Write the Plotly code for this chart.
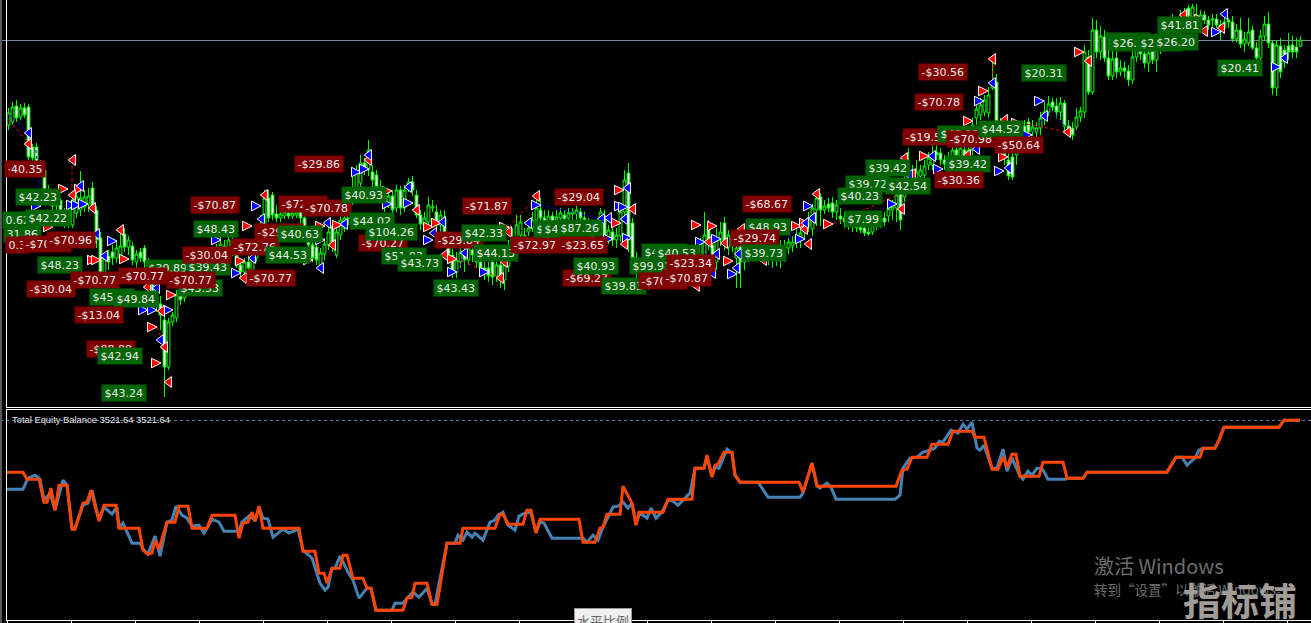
import plotly.graph_objects as go

opens = [875,878,894,883,892,893,853,853,837,830,
810,802,794,800,788,776,775,787,790,793,
796,812,790,762,728,744,748,742,742,766,
753,754,738,748,752,738,720,704,696,680,
633,678,682,707,702,710,718,722,717,726,
732,738,742,748,754,750,760,753,735,728,
738,730,742,752,774,802,805,786,782,784,
787,784,785,788,782,765,755,753,735,746,
755,774,745,765,772,782,800,812,817,837,
830,828,825,813,805,797,804,792,810,792,
812,818,805,785,775,778,792,788,775,782,
762,745,728,738,745,740,750,742,738,732,
732,738,724,735,720,734,750,760,765,755,
768,772,780,790,782,778,784,780,782,785,
782,786,786,788,782,775,768,762,772,784,
762,768,760,764,788,827,777,742,732,720,
725,718,722,728,724,730,728,734,728,736,
732,742,735,738,742,774,755,738,760,777,
753,762,742,754,738,745,748,750,746,752,
748,746,750,748,754,752,754,758,760,768,
774,771,790,803,790,796,797,788,784,782,
780,778,776,774,772,768,768,774,778,782,
784,790,792,815,803,820,828,822,824,825,
835,835,848,847,840,838,842,850,844,850,
832,850,882,885,888,887,912,918,878,865,
840,843,845,855,874,878,869,868,872,882,
888,898,894,888,897,874,872,873,883,888,
943,908,970,948,963,942,924,942,928,932,
929,920,943,952,946,937,950,940,950,962,
970,973,976,972,975,992,983,985,982,985,
980,980,981,975,972,980,978,961,970,956,
957,970,952,942,964,976,957,912,954,950,
954,955,953,954]
closes = [887,893,882,892,885,843,842,837,828,810,
802,794,800,788,778,790,800,803,802,803,
804,791,760,725,742,738,742,752,754,753,
760,740,746,742,738,720,704,696,685,633,
678,685,705,700,710,718,722,717,726,732,
738,742,750,756,750,760,752,735,728,738,
732,742,752,775,802,782,785,782,786,788,
784,787,788,782,765,755,742,740,747,756,
768,754,768,780,782,800,812,828,837,830,
850,820,813,805,795,804,790,810,792,810,
818,810,785,776,782,795,793,775,785,765,
745,728,740,748,740,752,745,738,732,726,
724,723,735,720,735,750,762,775,778,765,
772,780,792,782,775,784,778,783,787,781,
787,788,790,782,775,768,762,772,788,762,
770,760,765,788,820,760,742,732,718,725,
718,724,730,724,730,728,735,728,738,732,
742,735,742,758,765,755,738,760,768,757,
765,754,752,738,745,750,752,746,752,748,
746,750,748,754,750,758,758,764,767,776,
782,792,802,790,794,792,788,795,781,778,
776,774,772,770,767,766,774,778,782,778,
791,793,805,780,820,828,830,828,830,834,
842,842,845,840,836,842,850,845,852,842,
850,875,891,895,900,905,916,878,865,845,
824,823,855,870,868,868,873,872,882,888,
896,893,888,897,874,868,865,883,889,948,
908,970,948,964,942,924,941,928,932,929,
920,943,952,946,937,947,940,950,960,970,
975,978,972,975,985,983,993,982,985,980,
975,981,975,972,978,978,961,970,956,961,
968,952,942,964,976,957,912,955,928,938,
948,948,948,960]
highs = [892,898,900,896,897,896,856,857,840,832,
815,808,804,802,792,795,805,810,829,810,
812,818,794,768,746,750,755,760,768,772,
764,758,750,752,755,742,725,710,704,690,
682,688,710,715,715,724,728,728,732,738,
744,748,756,764,760,766,764,760,740,742,
744,748,760,785,810,810,808,795,792,795,
792,794,794,794,786,770,760,760,752,762,
775,780,775,785,788,808,828,835,845,842,
860,835,830,820,810,810,810,815,814,815,
822,824,810,790,788,803,800,795,790,790,
768,752,748,755,752,760,755,750,745,738,
738,742,740,745,742,760,772,785,785,772,
778,788,804,802,790,790,788,790,792,790,
792,792,794,792,788,782,775,778,792,790,
775,775,772,795,830,837,782,748,740,732,
730,730,735,735,736,736,742,740,745,744,
748,750,750,762,788,780,762,772,778,783,
770,768,760,760,750,755,756,756,758,758,
755,756,756,760,760,762,764,772,772,780,
788,796,810,807,800,802,803,800,792,788,
788,784,782,780,778,776,778,784,788,788,
796,800,810,820,840,852,835,840,835,840,
848,855,855,852,845,848,855,855,858,855,
855,882,900,902,905,913,940,926,882,872,
850,850,860,875,880,882,880,878,888,900,
904,902,902,903,900,880,878,892,893,955,
950,982,980,974,970,955,950,950,940,938,
935,950,960,958,954,955,958,960,970,978,
982,986,982,990,992,995,996,996,990,989,
984,986,986,980,985,982,984,976,982,968,
982,974,958,970,984,988,960,960,962,955,
967,964,962,964]
lows = [870,875,878,880,882,840,838,832,824,805,
798,788,785,782,772,772,772,782,784,788,
788,788,752,718,720,730,735,737,738,748,
745,735,732,738,728,710,695,688,670,603,
630,674,678,695,698,704,712,710,712,720,
728,734,738,744,744,746,744,732,722,724,
728,726,738,748,770,778,780,778,778,781,
781,781,782,776,760,750,738,735,728,740,
750,748,742,760,768,775,795,800,812,825,
824,810,805,800,788,792,785,788,785,788,
808,804,782,770,772,772,788,768,768,760,
738,722,722,732,728,735,738,732,725,720,
718,715,718,712,710,728,744,755,760,750,
764,768,774,776,770,772,774,775,776,774,
778,780,778,776,768,760,756,756,766,758,
756,754,752,758,780,748,735,720,710,712,
710,712,715,718,716,720,720,716,722,726,
724,728,715,732,738,750,730,730,754,750,
745,748,712,712,730,738,742,740,738,738,
735,732,734,732,738,746,748,752,752,760,
768,764,774,774,786,788,782,780,776,772,
770,768,768,767,764,764,765,770,772,774,
778,780,778,770,798,815,820,818,820,818,
830,830,840,835,830,832,835,838,835,830,
828,845,875,880,884,882,910,872,860,835,
820,820,835,850,860,862,864,862,865,875,
884,888,882,880,868,864,860,870,878,882,
905,905,942,940,938,920,920,922,924,922,
914,916,938,940,932,928,936,928,946,958,
964,966,964,962,968,978,978,976,972,976,
970,970,972,960,968,972,958,958,952,948,
954,950,938,940,960,952,905,904,922,932,
940,942,942,953]
bar_time = [8.5 + 4 * i for i in range(len(opens))]

current_price = 959.5
total_equity = 3521.64

red_right = [(53,773),(68,811),(84,811),(97,740),(101,740),(129,741),(157,673),(161,637),(176,705),(245,739),(252,774),(313,740),(325,774),(342,775),(392,809),(433,773),(441,777),(457,741),(509,773),(621,777),(624,810),(701,775),(717,774),(733,739),(801,774),(809,777),(833,776),(929,844),(973,879),(988,909),(1008,843),(1021,877),(1084,948),(1204,981)]
blue_right = [(41,794),(76,795),(81,795),(88,796),(97,758),(117,759),(148,690),(157,690),(173,690),(221,760),(241,727),(261,794),(325,760),(361,828),(369,831),(392,796),(413,797),(433,760),(457,728),(489,728),(541,795),(613,761),(632,762),(624,794),(628,793),(705,758),(721,761),(737,726),(805,761),(813,794),(897,796),(943,831),(984,899),(1004,829),(1032,865),(1044,899),(1221,968),(1281,933)]
red_left = [(29,856),(73,840),(73,805),(93,792),(121,770),(148,713),(162,689),(165,653),(169,618),(244,722),(265,805),(333,755),(369,840),(417,790),(445,745),(501,722),(505,738),(509,768),(537,804),(625,756),(633,791),(709,758),(725,757),(742,771),(764,740),(697,714),(805,771),(809,756),(817,806),(902,791),(905,842),(913,826),(968,845),(993,941),(1005,880),(1068,868),(1089,939),(1205,969),(1222,972),(1184,985)]
blue_left = [(29,867),(81,814),(97,766),(105,744),(157,712),(161,660),(253,742),(262,781),(321,732),(328,777),(345,776),(369,845),(409,813),(434,767),(443,778),(465,747),(529,777),(602,781),(609,782),(625,781),(628,812),(717,746),(739,746),(737,732),(713,727),(806,777),(813,782),(910,825),(933,844),(977,851),(993,917),(1009,832),(1045,884),(1225,986),(1285,942)]

red_trades = [((9,880),(29,856)),((157,673),(165,653)),((457,741),(501,722)),((509,773),(537,804)),((833,776),(902,807)),((993,941),(993,917)),((1021,877),(1068,868)),((72,840),(72,805))]
blue_trades = [((9,885),(29,867)),((36,850),(41,794)),((1044,899),(1068,870)),((541,795),(602,781)),((457,728),(465,747)),((788,762),(801,774)),((1032,868),(1045,884))]

labels = [
("\u00b740.35",25,831),("$42.23",37.5,803),("0.62",18,780),("$42.22",47.5,782),("31.86",22,766),("0.3",17,755),
("-$70.77",47,756),("-$70.96",71,760),("$48.23",59.5,735),("-$30.04",51,711),
("$39.89",167.5,732),("$43.53",199.5,712),("$39.43",207.5,733),("-$30.04",207,745),("-$70.77",95,720),("-$70.77",143,724),("-$70.77",191,720),
("$45.11",111.5,703),("$49.84",135.5,701),("-$13.04",99,685),("-$88.88",111,651),("$42.94",119.5,644),("$43.24",123.5,607),
("-$70.87",215,795),("$48.43",215.5,771),("-$29.86",319,836),("-$72.76",303,796),("-$70.78",327,792),
("-$29.74",279,768),("-$72.76",255,753),("$40.63",299.5,766),("$44.53",287.5,745),("-$70.77",271,722),
("$40.93",363.5,805),("$44.02",371.5,779),("-$70.27",383,757),("$104.26",391.5,768),("$51.93",403.5,744),("$43.73",419.5,737),
("-$29.84",459,760),("$42.33",483.5,767),("-$71.87",487,794),("$44.13",495.5,747),("$43.43",455.5,712),
("-$72.97",535,755),("$41.27",555.5,771),("$43.91",563.5,771),("$87.26",579.5,772),("-$23.65",583,755),("-$29.04",579,803),
("-$69.27",587,722),("$40.93",595.5,734),("$39.83",623.5,714),("$99.91",651.5,734),("$41.06",663.5,748),("$40.53",676.5,747),("-$70.87",663,719),("-$23.34",691,737),("-$70.87",687,722),
("-$68.67",767,796),("$48.93",767.5,773),("-$29.74",755,762),("$39.73",763.5,747),
("-$30.56",943,928),("-$70.78",939,898),("-$19.53",927,863),("$40.12",959.5,866),("-$70.98",971,861),
("$39.42",887.5,832),("$39.72",867.5,816),("$42.54",907.5,814),("$40.23",859.5,804),("$7.99",863,781),
("$39.42",967.5,836),("-$30.36",959,820),("$44.52",1000.5,871),("-$50.64",1019,855),("$20.31",1043.5,927),
("$26.15",1127.5,959),("$26.30",1131.5,957),("$26.18",1159.5,957),("$26.20",1176,958),("$41.81",1179.5,975),("$20.41",1239.5,932),
]

equity_time = [7,23,28,35,40,44,50,55,63,67,72,75,83,88,92,99,104,112,117,119,123,127,132,140,144,148,155,160,167,172,176,182,187,192,199,204,212,219,224,239,242,250,255,259,263,268,273,278,283,289,298,303,312,320,325,328,332,335,340,348,353,359,367,371,376,392,395,403,407,413,419,427,432,435,440,447,455,458,463,467,472,475,483,490,495,498,503,508,515,519,527,531,536,540,544,552,583,587,593,598,603,613,618,623,628,632,636,640,647,651,656,662,668,673,678,685,690,695,704,707,712,715,719,727,732,735,740,758,768,800,803,812,817,820,827,831,836,895,900,903,910,917,923,930,935,939,943,951,958,963,967,972,977,980,984,992,997,1003,1007,1012,1020,1023,1028,1032,1037,1042,1048,1065,1068,1083,1087,1167,1176,1182,1187,1195,1199,1203,1215,1219,1224,1279,1284,1300]
equity_value = [3453,3453,3464,3467,3463,3442,3449,3432,3462,3457,3414,3414,3437,3439,3452,3422,3435,3428,3435,3415,3419,3410,3399,3399,3392,3388,3406,3386,3420,3422,3436,3427,3424,3416,3417,3409,3423,3420,3411,3411,3420,3427,3421,3435,3424,3423,3405,3409,3413,3409,3413,3392,3384,3359,3352,3355,3374,3374,3386,3370,3362,3344,3354,3354,3332,3332,3339,3339,3344,3350,3345,3354,3338,3338,3364,3399,3399,3407,3402,3410,3405,3409,3402,3420,3422,3427,3430,3417,3412,3426,3430,3429,3410,3420,3419,3404,3404,3400,3407,3402,3415,3435,3436,3440,3434,3439,3419,3429,3424,3434,3424,3430,3442,3441,3437,3444,3449,3474,3474,3485,3466,3475,3474,3493,3489,3467,3460,3460,3445,3445,3449,3479,3457,3454,3459,3455,3443,3443,3447,3474,3484,3485,3490,3492,3494,3501,3500,3512,3509,3518,3513,3520,3494,3492,3497,3474,3474,3493,3471,3484,3466,3463,3471,3467,3474,3474,3463,3463,3464,3464,3470,3470,3485,3485,3477,3484,3492,3494,3494,3502,3515,3515,3522,3522]
balance_time = [7,23,27,39,44,47,51,55,59,67,72,75,83,87,91,97,99,104,116,119,139,143,148,152,155,159,167,175,179,188,192,207,212,235,239,243,248,252,255,259,263,299,303,315,319,324,327,332,340,343,347,353,363,367,371,376,403,407,412,415,427,432,437,447,460,463,495,500,503,508,523,527,531,536,540,579,583,595,600,603,607,620,623,632,636,639,663,668,692,695,704,707,712,715,718,724,732,735,740,799,803,812,817,896,902,907,912,927,932,948,953,972,975,984,992,998,1003,1007,1012,1016,1020,1039,1043,1063,1067,1083,1087,1167,1176,1200,1203,1215,1219,1224,1279,1284,1300]
balance_value = [3470,3470,3463,3463,3440,3440,3454,3432,3457,3457,3413,3413,3439,3440,3452,3427,3421,3437,3437,3414,3414,3392,3388,3389,3402,3393,3420,3420,3436,3436,3414,3414,3427,3427,3404,3419,3420,3430,3421,3436,3414,3414,3391,3391,3369,3369,3359,3374,3374,3387,3387,3364,3364,3354,3354,3332,3332,3344,3345,3359,3359,3338,3338,3399,3399,3414,3414,3428,3428,3418,3418,3432,3432,3409,3423,3423,3400,3400,3414,3415,3428,3428,3456,3439,3417,3430,3430,3443,3443,3474,3474,3487,3465,3477,3478,3490,3490,3467,3460,3460,3450,3479,3456,3456,3472,3473,3485,3485,3498,3498,3511,3511,3505,3505,3473,3473,3485,3475,3488,3488,3466,3466,3480,3480,3464,3464,3470,3470,3485,3485,3494,3494,3502,3515,3515,3522,3522]

x_ticks = list(range(7, 1311, 64))


def pairs(seq):
    return [p[0] for p in seq], [p[1] for p in seq]


def segs(seq):
    xs, ys = [], []
    for a, b in seq:
        xs += [a[0], b[0], None]
        ys += [a[1], b[1], None]
    return xs, ys


fig = go.Figure()
fig.add_trace(go.Candlestick(
    x=bar_time, open=opens, high=highs, low=lows, close=closes,
    increasing=dict(line=dict(color="#00FF00", width=1), fillcolor="#000000"),
    decreasing=dict(line=dict(color="#00FF00", width=1), fillcolor="#FFFFFF"),
    whiskerwidth=0, xaxis="x", yaxis="y", showlegend=False, hoverinfo="skip"))

for seq, col in ((red_trades, "#FF0000"), (blue_trades, "#0000FF")):
    xs, ys = segs(seq)
    fig.add_trace(go.Scatter(x=xs, y=ys, mode="lines", line=dict(color=col, width=1, dash="3px,3px"),
                             xaxis="x", yaxis="y", showlegend=False, hoverinfo="skip"))

for seq, col, sym in ((red_right, "#FF0000", "arrow-right"), (blue_right, "#0000FF", "arrow-right"),
                      (red_left, "#FF0000", "triangle-left"), (blue_left, "#0000FF", "triangle-left")):
    xs, ys = pairs(seq)
    fig.add_trace(go.Scatter(x=xs, y=ys, mode="markers",
                             marker=dict(symbol=sym, size=9.5, color=col, line=dict(color="#FFFFFF", width=1)),
                             xaxis="x", yaxis="y", showlegend=False, hoverinfo="skip"))

fig.add_trace(go.Scatter(x=equity_time, y=equity_value, mode="lines", line=dict(color="#4682B4", width=3),
                         xaxis="x2", yaxis="y2", showlegend=False, hoverinfo="skip"))
fig.add_trace(go.Scatter(x=balance_time, y=balance_value, mode="lines", line=dict(color="#FF4500", width=3),
                         xaxis="x2", yaxis="y2", showlegend=False, hoverinfo="skip"))

W, H = 1311, 623
GLYPH = {"-": 4.0, ".": 3.5, "\u00b7": 3.5}


def box_width(t):
    return sum(GLYPH.get(c, 7.0) for c in t) + 3


annos = []
for t, x, y in labels:
    annos.append(dict(text=t, x=x, y=y, xref="x", yref="y", showarrow=False,
                      font=dict(family="DejaVu Sans", size=11, color="#EDEDED"),
                      bgcolor="#800000" if t.startswith("-") or t in ("\u00b740.35", "0.3") else "#006400",
                      borderpad=1, width=box_width(t), height=14, align="center"))

annos.append(dict(text="Total Equity Balance 3521.64 3521.64", x=11, y=total_equity + 1.5, xref="x2", yref="y2",
                  xanchor="left", yanchor="middle", showarrow=False, borderpad=0,
                  font=dict(family="Liberation Sans", size=9.4, color="#E8E8E8")))
annos.append(dict(text="\u6fc0\u6d3b Windows", x=1093 / W, y=1 - 565 / H, xref="paper", yref="paper",
                  xanchor="left", yanchor="middle", showarrow=False, borderpad=0,
                  font=dict(family="Noto Sans CJK SC", size=20, color="#6E6E6E")))
annos.append(dict(text="\u8f6c\u5230\u201c\u8bbe\u7f6e\u201d\u4ee5\u6fc0\u6d3b Windows\u3002", x=1093 / W, y=1 - 589 / H,
                  xref="paper", yref="paper", xanchor="left", yanchor="middle", showarrow=False, borderpad=0,
                  font=dict(family="Noto Sans CJK SC", size=13.5, color="#6E6E6E")))
annos.append(dict(text="<b>\u6307\u6807\u94fa</b>", x=1240 / W, y=1 - 598 / H, xref="paper", yref="paper",
                  xanchor="center", yanchor="middle", showarrow=False, borderpad=0,
                  font=dict(family="Noto Sans CJK SC", size=38, color="#A09C98")))
annos.append(dict(text="\u6c34\u5e73\u6bd4\u4f8b", x=602.5 / W, y=1 - 620 / H, xref="paper", yref="paper",
                  xanchor="center", yanchor="middle", showarrow=False, bgcolor="#F0F0F0", bordercolor="#999999",
                  borderwidth=1, borderpad=2,
                  font=dict(family="Noto Sans CJK SC", size=13, color="#666666")))

shapes = [
    dict(type="line", xref="paper", yref="y", x0=0, x1=1, y0=current_price, y1=current_price,
         line=dict(color="#778899", width=1), layer="below"),
    dict(type="line", xref="paper", yref="y2", x0=0, x1=1, y0=total_equity, y1=total_equity,
         line=dict(color="#4682B4", width=1, dash="3px,3px"), layer="below"),
    dict(type="rect", xref="paper", yref="paper", x0=0, x1=2 / W, y0=0, y1=1,
         fillcolor="#5A5A5A", line=dict(width=0), layer="below"),
]

axis_common = dict(showgrid=False, zeroline=False, showline=True, linecolor="#FFFFFF", linewidth=1)
fig.update_layout(
    width=W, height=H, margin=dict(l=0, r=0, t=0, b=0, pad=0), autosize=False,
    paper_bgcolor="#000000", plot_bgcolor="#000000", showlegend=False,
    boxgap=0, hovermode=False, annotations=annos, shapes=shapes,
    xaxis=dict(domain=[7 / W, 1], range=[7, 1311], anchor="y", showticklabels=False, ticks="",
               rangeslider=dict(visible=False), **axis_common),
    yaxis=dict(domain=[216 / H, 1], range=[593, 1000], anchor="x", showticklabels=False, ticks="", **axis_common),
    xaxis2=dict(domain=[7 / W, 1], range=[7, 1311], anchor="y2", showticklabels=False, ticks="outside",
                ticklen=3, tickcolor="#FFFFFF", tickmode="array", tickvals=x_ticks, mirror=True, **axis_common),
    yaxis2=dict(domain=[3 / H, 213 / H], range=[3322.14, 3532.14], anchor="x2", showticklabels=False, ticks="", **axis_common),
)

fig.write_html("out.html", config=dict(displayModeBar=False, responsive=False),
               post_script="document.body.style.margin='0';document.body.style.background='#000';document.body.style.overflow='hidden';")
